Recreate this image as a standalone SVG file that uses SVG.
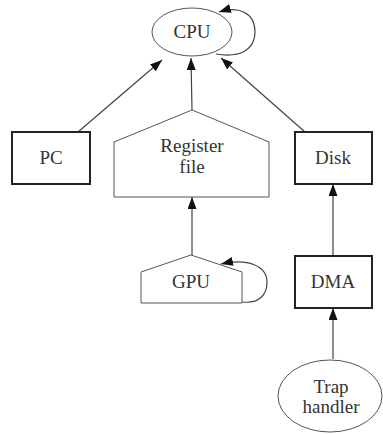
<svg xmlns="http://www.w3.org/2000/svg" width="383" height="434" viewBox="0 0 383 434">
<defs>
<marker id="ah" viewBox="0 0 12 9" refX="12" refY="4.5" markerWidth="12" markerHeight="9" markerUnits="userSpaceOnUse" orient="auto">
<path d="M0,0 L12,4.5 L0,9 z" fill="#111"/>
</marker>
</defs>
<style>
.t{font-family:"Liberation Serif","Times New Roman",serif;font-size:19px;fill:#333;text-anchor:middle}
.box{fill:#fff;stroke:#222;stroke-width:2}
.thin{fill:#fff;stroke:#555;stroke-width:1}
.e{fill:none;stroke:#444;stroke-width:1.2;marker-end:url(#ah)}
</style>
<rect width="383" height="434" fill="#fff"/>
<g id="connectors">
<path class="e" d="M78,132 L162,60"/>
<path class="e" d="M192,110 L191,58"/>
<path class="e" d="M305,132 L221,58"/>
<path class="e" d="M216,54 C240,58 255,50 255,32 C255,12 238,6 219,12"/>
<path class="e" d="M192,255 L192,197"/>
<path class="e" d="M242,302 C260,304 267,294 267,282 C267,266 248,258 221,264"/>
<path class="e" d="M333,255 L333,184"/>
<path class="e" d="M333,359 L333,308"/>
</g>
<g id="cpu">
<ellipse class="thin" cx="192" cy="32" rx="40" ry="24"/>
<text class="t" x="192" y="38">CPU</text>
</g>
<g id="pc">
<rect class="box" x="12" y="132" width="78" height="52"/>
<text class="t" x="51" y="164">PC</text>
</g>
<g id="regfile">
<path class="thin" d="M192,110 L269,142 L269,197 L114,197 L114,142 Z"/>
<text class="t" x="192" y="152">Register</text>
<text class="t" x="192" y="173">file</text>
</g>
<g id="disk">
<rect class="box" x="295" y="132" width="77" height="52"/>
<text class="t" x="333" y="164">Disk</text>
</g>
<g id="gpu">
<path class="thin" d="M191,255 L242,272 L242,303 L141,303 L141,272 Z"/>
<text class="t" x="191" y="288">GPU</text>
</g>
<g id="dma">
<rect class="box" x="295" y="256" width="77" height="52"/>
<text class="t" x="333" y="288">DMA</text>
</g>
<g id="trap">
<ellipse class="thin" cx="330" cy="396" rx="52" ry="36"/>
<text class="t" x="331" y="393">Trap</text>
<text class="t" x="331" y="413">handler</text>
</g>
</svg>
